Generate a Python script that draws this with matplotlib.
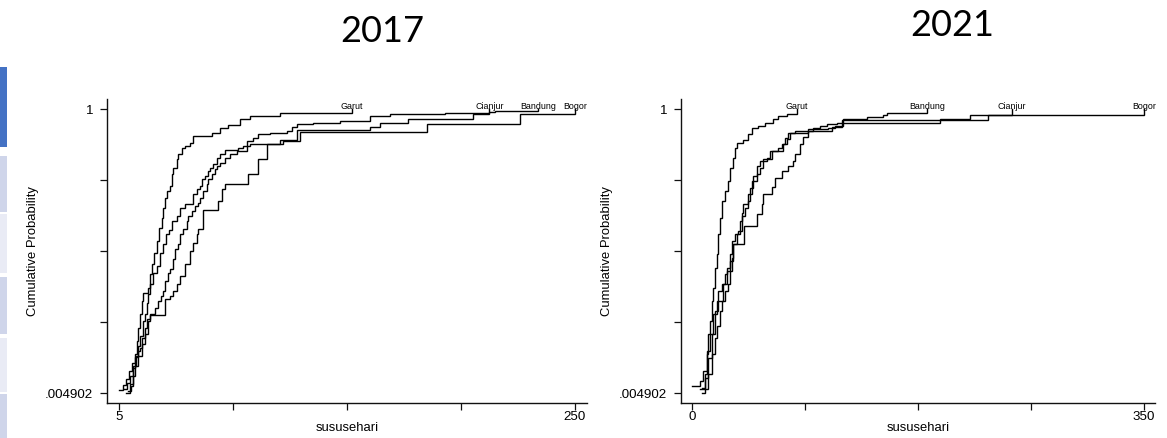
import matplotlib
matplotlib.use("Agg")
import numpy as np
import matplotlib.pyplot as plt
from matplotlib.patches import Rectangle

# ---------------------------------------------------------------- data
years = ["2017", "2021"]
regions = ["Garut", "Cianjur", "Bandung", "Bogor"]
p_min = 0.004902

# 2017: empirical CDF corner points (susu per hari, cumulative probability)
x_garut_2017 = [8.8, 10.9, 12.7, 13.6, 14.5, 15.4, 16.3, 17.5, 18.1, 20.7, 21.7, 22.6, 23.8,
                25.3, 26.7, 27.9, 28.8, 29.7, 30.6, 32.4, 33.3, 34.2, 36.0, 36.9, 38.7, 40.5,
                43.1, 44.9, 54.8, 59.3, 63.7, 70.0, 75.4, 91.5, 130]
p_garut_2017 = [0.0049, 0.035, 0.094, 0.141, 0.187, 0.234, 0.281, 0.327, 0.356, 0.374, 0.421,
                0.456, 0.497, 0.537, 0.584, 0.619, 0.654, 0.689, 0.713, 0.730, 0.771, 0.794,
                0.824, 0.841, 0.864, 0.870, 0.882, 0.905, 0.917, 0.934, 0.944, 0.964, 0.976,
                0.987, 1.0]

x_cianjur_2017 = [7.7, 9.3, 10.9, 12.5, 14.1, 15.2, 16.3, 17.7, 19.0, 19.9, 20.7, 21.7, 23.4,
                  25.3, 27.0, 28.8, 30.3, 32.0, 33.3, 36.0, 37.8, 40.5, 44.9, 46.7, 48.5, 49.4,
                  51.2, 53.0, 53.9, 55.7, 57.5, 59.3, 62.0, 69.1, 71.8, 75.4, 91.5, 100.5,
                  139.9, 145.2, 160.4, 195.4, 204]
p_cianjur_2017 = [0.019, 0.040, 0.065, 0.100, 0.135, 0.170, 0.205, 0.257, 0.281, 0.321, 0.351,
                  0.386, 0.426, 0.450, 0.496, 0.526, 0.561, 0.575, 0.608, 0.625, 0.654, 0.668,
                  0.701, 0.719, 0.730, 0.754, 0.765, 0.783, 0.794, 0.806, 0.829, 0.841, 0.855,
                  0.864, 0.870, 0.876, 0.890, 0.925, 0.937, 0.950, 0.964, 0.981, 1.0]

x_bandung_2017 = [5.0, 7.1, 8.8, 10.4, 12.0, 13.6, 15.2, 16.3, 17.2, 19.0, 19.9, 21.7, 24.3,
                  26.1, 27.4, 28.8, 29.7, 31.5, 32.4, 34.2, 35.1, 36.9, 37.8, 39.5, 41.4, 42.2,
                  44.1, 45.8, 47.6, 48.5, 50.3, 52.1, 53.0, 54.8, 56.6, 57.5, 59.3, 62.0, 64.6,
                  68.2, 73.6, 77.2, 79.8, 86.1, 95.1, 97.8, 100.5, 109.4, 123.7, 139.9, 150.6,
                  180.2, 204.0, 207.1, 230.3]
p_bandung_2017 = [0.014, 0.033, 0.054, 0.082, 0.110, 0.131, 0.152, 0.164, 0.199, 0.234, 0.263,
                  0.281, 0.304, 0.327, 0.345, 0.362, 0.397, 0.426, 0.438, 0.473, 0.508, 0.526,
                  0.561, 0.579, 0.608, 0.625, 0.643, 0.660, 0.672, 0.689, 0.713, 0.736, 0.754,
                  0.771, 0.789, 0.800, 0.812, 0.829, 0.841, 0.853, 0.888, 0.899, 0.911, 0.917,
                  0.923, 0.937, 0.946, 0.950, 0.958, 0.976, 0.984, 0.987, 0.991, 0.993, 1.0]

x_bogor_2017 = [9.8, 11.4, 12.5, 13.6, 15.2, 17.4, 19.0, 20.7, 21.7, 29.7, 32.4, 34.2, 36.0,
                37.8, 40.5, 43.1, 44.9, 46.7, 47.6, 50.3, 58.4, 60.2, 62.0, 74.5, 79.8, 84.4,
                93.1, 102.2, 170.3, 220.5, 250]
p_bogor_2017 = [0.012, 0.029, 0.065, 0.100, 0.135, 0.177, 0.212, 0.257, 0.277, 0.333, 0.345,
                0.362, 0.386, 0.415, 0.456, 0.503, 0.532, 0.561, 0.578, 0.645, 0.678, 0.719,
                0.736, 0.771, 0.824, 0.876, 0.888, 0.920, 0.946, 0.981, 1.0]

# 2021
x_garut_2021 = [7.5, 10.1, 11.4, 12.6, 13.9, 15.3, 16.5, 17.8, 19.1, 20.4, 21.7, 23.0, 25.6,
                28.1, 29.4, 32.0, 33.3, 34.6, 39.7, 43.6, 46.2, 51.3, 56.5, 63.0, 66.8, 73.3, 81.1]
p_garut_2021 = [0.023, 0.070, 0.141, 0.211, 0.257, 0.327, 0.374, 0.444, 0.491, 0.561, 0.619,
                0.678, 0.713, 0.748, 0.794, 0.829, 0.864, 0.882, 0.890, 0.911, 0.935, 0.941,
                0.952, 0.964, 0.976, 0.984, 1.0]

x_cianjur_2021 = [7.5, 10.1, 12.6, 15.3, 17.8, 20.4, 24.2, 26.9, 29.4, 32.0, 34.6, 37.2, 38.5,
                  39.7, 43.6, 46.2, 50.1, 52.7, 55.2, 61.7, 66.8, 69.5, 72.0, 74.6, 79.8, 93.9,
                  99.1, 104.3, 112.0, 192.0, 215.3, 247.6]
p_cianjur_2021 = [0.0049, 0.059, 0.129, 0.211, 0.292, 0.327, 0.386, 0.432, 0.467, 0.526, 0.561,
                  0.608, 0.637, 0.666, 0.701, 0.748, 0.771, 0.794, 0.824, 0.853, 0.864, 0.876,
                  0.899, 0.917, 0.923, 0.935, 0.941, 0.946, 0.950, 0.964, 0.979, 1.0]

x_bandung_2021 = [0, 6.5, 8.7, 11.4, 13.9, 16.5, 19.1, 20.4, 23.0, 25.6, 26.9, 29.4, 30.7, 33.3,
                  35.9, 38.5, 41.0, 43.6, 44.9, 47.5, 50.1, 52.7, 57.8, 60.4, 70.7, 73.3, 75.9,
                  90.1, 105.5, 110.7, 117.1, 135.3, 148.1, 150.8, 182.0]
p_bandung_2021 = [0.029, 0.047, 0.082, 0.152, 0.211, 0.281, 0.327, 0.362, 0.386, 0.421, 0.444,
                  0.491, 0.538, 0.561, 0.573, 0.625, 0.654, 0.678, 0.724, 0.765, 0.800, 0.818,
                  0.829, 0.853, 0.876, 0.894, 0.917, 0.929, 0.935, 0.941, 0.964, 0.972, 0.979,
                  0.987, 1.0]

x_bogor_2021 = [6.2, 12.6, 15.3, 17.8, 19.1, 21.7, 23.0, 25.6, 28.1, 29.4, 30.7, 32.0, 40.0,
                50.3, 54.0, 55.2, 61.7, 64.3, 69.5, 74.6, 78.4, 79.8, 83.6, 86.2, 90.1, 108.2,
                115.9, 229.5, 350]
p_bogor_2021 = [0.018, 0.070, 0.141, 0.199, 0.240, 0.292, 0.327, 0.362, 0.386, 0.432, 0.479,
                0.526, 0.590, 0.631, 0.666, 0.701, 0.727, 0.759, 0.783, 0.800, 0.818, 0.841,
                0.876, 0.902, 0.923, 0.937, 0.960, 0.979, 1.0]

x_min_max = {"2017": (5, 250), "2021": (0, 350)}
y_tick_labels = [".004902", "", "", "", "1"]

series = {
    "2017": [("Garut", x_garut_2017, p_garut_2017),
             ("Cianjur", x_cianjur_2017, p_cianjur_2017),
             ("Bandung", x_bandung_2017, p_bandung_2017),
             ("Bogor", x_bogor_2017, p_bogor_2017)],
    "2021": [("Garut", x_garut_2021, p_garut_2021),
             ("Cianjur", x_cianjur_2021, p_cianjur_2021),
             ("Bandung", x_bandung_2021, p_bandung_2021),
             ("Bogor", x_bogor_2021, p_bogor_2021)],
}

# ---------------------------------------------------------------- figure
W, H = 1167, 438
fig = plt.figure(figsize=(W / 100, H / 100), dpi=100)
fig.patch.set_facecolor("white")

sans = ["Liberation Sans", "DejaVu Sans"]


def add_px_axes(x0, x1, ytop, ybot):
    return fig.add_axes([x0 / W, 1 - ybot / H, (x1 - x0) / W, (ybot - ytop) / H])


# slide thumbnails strip on the left edge
strip = [(67, 147, "#4472C4"), (156, 212, "#CFD5EA"), (214, 273, "#E9EBF5"),
         (277, 334, "#CFD5EA"), (338, 392, "#E9EBF5"), (394, 438, "#CFD5EA")]
for y0, y1, col in strip:
    fig.add_artist(Rectangle((0, 1 - y1 / H), 7 / W, (y1 - y0) / H,
                             transform=fig.transFigure, facecolor=col,
                             edgecolor="none"))

panels = {
    "2017": dict(x0=107, x1=587, px0=119, px1=575, title_x=382, title_y=31),
    "2021": dict(x0=681, x1=1155, px0=692, px1=1144, title_x=952, title_y=26),
}
ytop, ybot = 99, 403
py1, py0 = 109, 393   # pixel rows of p = 1 and p = p_min

for year in years:
    cfg = panels[year]
    ax = add_px_axes(cfg["x0"], cfg["x1"], ytop, ybot)
    vmin, vmax = x_min_max[year]
    sx = (cfg["px1"] - cfg["px0"]) / (vmax - vmin)
    ax.set_xlim(vmin - (cfg["px0"] - cfg["x0"]) / sx, vmax + (cfg["x1"] - cfg["px1"]) / sx)
    sy = (py0 - py1) / (1 - p_min)
    ax.set_ylim(p_min - (ybot - py0) / sy, 1 + (py1 - ytop) / sy)

    for name, xs, ps in series[year]:
        ax.step(xs, ps, where="post", color="black", lw=1.0, solid_joinstyle="miter")
        ax.annotate(name, (xs[-1], ps[-1]), xytext=(0, 0.3), textcoords="offset points",
                    ha="center", va="baseline", fontsize=6.4, family=sans, color="black")

    xt = np.linspace(vmin, vmax, 5)
    ax.set_xticks(xt)
    ax.set_xticklabels([str(vmin), "", "", "", str(vmax)])
    yt = np.linspace(p_min, 1, 5)
    ax.set_yticks(yt)
    ax.set_yticklabels(y_tick_labels)

    for s in ("top", "right"):
        ax.spines[s].set_visible(False)
    for s in ("left", "bottom"):
        ax.spines[s].set_linewidth(1.0)
        ax.spines[s].set_color("#111111")
    ax.tick_params(direction="out", length=5, width=0.9, color="#111111",
                   labelsize=9.6, labelcolor="black")
    ax.tick_params(axis="x", pad=1)
    ax.tick_params(axis="y", pad=5)
    for lab in ax.get_xticklabels() + ax.get_yticklabels():
        lab.set_family(sans)

    cx = (cfg["x0"] + cfg["x1"]) / 2
    fig.text(cx / W, 1 - 428 / H, "sususehari", ha="center", va="center",
             fontsize=9.4, family=sans)
    fig.text((cfg["x0"] - 74) / W, 1 - 251 / H, "Cumulative Probability", rotation=90,
             ha="center", va="center", fontsize=9.4, family=sans)
    fig.text(cfg["title_x"] / W, 1 - cfg["title_y"] / H, year, ha="center", va="center",
             fontsize=26, family=["Lato", "DejaVu Sans"])

fig.savefig("out.png", dpi=100, facecolor="white")
